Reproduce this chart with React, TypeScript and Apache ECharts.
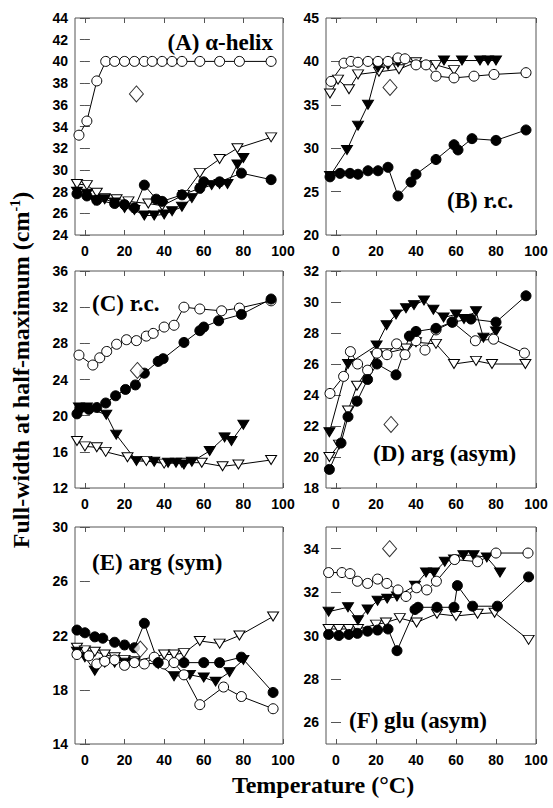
import { useEffect, useRef } from 'react';
import * as echarts from 'echarts';

// ---------- axis ticks ----------
const xTicks = [0, 20, 40, 60, 80, 100];
const aTicks = [24, 26, 28, 30, 32, 34, 36, 38, 40, 42, 44];
const bTicks = [20, 25, 30, 35, 40, 45];
const cTicks = [12, 16, 20, 24, 28, 32, 36];
const dTicks = [18, 20, 22, 24, 26, 28, 30, 32];
const eTicks = [14, 18, 22, 26, 30];
const fTicks = [26, 28, 30, 32, 34];

// ---------- panel A: alpha-helix ----------
const aOpenCircle = [[-3, 33.2], [1, 34.5], [6, 38.2], [10.5, 40], [15, 40], [20, 40], [25, 40], [30, 40], [34, 40], [39, 40], [44, 40], [49, 40], [58, 40], [68, 40], [78, 40], [94, 40]];
const aFilledCircle = [[-4, 27.8], [1, 27.6], [6, 27.2], [15, 26.9], [20, 26.8], [25, 26.5], [30, 28.6], [36, 27.3], [39, 27.1], [49, 27.7], [58, 28.3], [60, 28.9], [68, 28.9], [79, 29.7], [94, 29.1]];
const aFilledTri = [[-4, 28.0], [1, 27.8], [5, 27.2], [10, 27.3], [15, 27.0], [20, 26.5], [25, 26.3], [30, 25.8], [35, 25.8], [40, 25.9], [44, 26.2], [49, 26.6], [54, 27.4], [59, 28.3], [64, 28.6], [68, 28.7], [72, 28.7], [77, 30.5], [80, 31.1]];
const aOpenTri = [[-4, 28.7], [1, 28.6], [6, 27.9], [10, 27.4], [16, 27.3], [22, 27.1], [32, 26.9], [39, 26.7], [50, 27.7], [58, 29.7], [68, 31.0], [77, 32.0], [94, 33.0]];
const aDiamond = [[26, 37.0]];

// ---------- panel B: r.c. ----------
const bOpenCircle = [[-2.5, 37.7], [4, 39.8], [7.5, 40.0], [11, 39.9], [16, 40.0], [21, 40.0], [26, 40.0], [31, 40.4], [34.5, 40.3], [40, 39.6], [45, 39.6], [50, 38.3], [59, 38.1], [69, 38.3], [79, 38.5], [95, 38.7]];
const bFilledCircle = [[-3, 26.7], [2, 27.1], [7, 27.1], [11, 27.0], [16, 27.4], [21, 27.4], [26, 27.8], [31, 24.5], [37.5, 26.1], [40, 27.0], [50, 28.7], [59, 30.4], [61, 29.8], [68, 31.1], [80, 30.9], [95, 32.1]];
const bFilledTri = [[-3, 26.8], [5.5, 29.8], [11, 32.6], [16, 35.0], [21, 39.3], [26, 39.6], [31, 39.9], [54, 40.1], [63, 40.1], [72, 40.1], [76, 40.1], [80, 40.1]];
const bOpenTri = [[-3, 36.3], [1, 37.9], [6.5, 36.8], [11, 38.5], [21.5, 38.8], [31.5, 39.1], [40, 39.9], [50, 39.6], [59, 39.0]];
const bDiamond = [[27, 37.0]];

// ---------- panel C: r.c. ----------
const cOpenCircle = [[-3, 26.7], [4, 25.6], [7.5, 26.4], [11, 27.1], [16, 27.9], [21, 28.4], [26, 28.3], [31, 28.8], [34.5, 29.1], [40, 29.8], [45, 30.0], [50, 32.0], [58, 31.8], [69, 31.6], [78, 31.9], [94, 32.7]];
const cFilledCircle = [[-4, 20.2], [-2.5, 20.8], [2, 20.7], [6, 20.9], [10.5, 21.4], [15.5, 22.2], [20.5, 22.9], [25.5, 23.4], [30, 24.7], [37, 26.0], [39.5, 26.3], [50, 28.1], [58, 29.4], [60, 29.8], [67.5, 30.5], [79, 31.2], [94, 32.9]];
const cFilledTri = [[-3, 20.9], [1, 20.9], [10.8, 20.1], [15.8, 17.9], [26, 15.0], [35, 14.9], [42, 14.8], [46, 14.8], [50, 14.6], [54, 14.9], [63, 16.1], [70.5, 17.6], [74, 17.2], [80, 19.0]];
const cOpenTri = [[-4, 17.2], [0, 16.6], [6, 16.5], [10.5, 16.0], [21.5, 15.4], [31, 15.0], [40, 14.7], [49, 14.8], [59, 14.8], [69.5, 14.4], [77.5, 14.6], [94, 15.1]];
const cDiamond = [[26.5, 25.0]];

// ---------- panel D: arg (asym) ----------
const dOpenCircle = [[-3, 24.1], [3.8, 25.2], [7.2, 26.8], [10.8, 26.0], [15.8, 25.6], [20.5, 26.7], [25.5, 26.6], [30.3, 27.3], [34.5, 26.6], [40, 27.5], [44.5, 26.9], [50, 28.2], [58.3, 28.7], [69.7, 27.5], [78.8, 27.6], [94.2, 26.7]];
const dFilledCircle = [[-3.3, 19.2], [2.5, 20.9], [6, 22.6], [10.5, 23.6], [15.8, 25.0], [20.5, 26.0], [30, 25.3], [36.7, 27.8], [40, 28.1], [50, 28.3], [58, 28.7], [67.5, 28.9], [80, 28.7], [95, 30.4]];
const dFilledTri = [[-3.3, 21.6], [6, 26.0], [20.3, 27.2], [25.3, 28.5], [30, 29.2], [35, 29.6], [39, 29.8], [44, 30.1], [48.7, 29.5], [53.8, 29.0], [60, 29.2], [64, 28.9], [70, 29.4], [73.7, 27.7], [80, 28.1]];
const dOpenTri = [[-3.3, 20.0], [1.5, 20.8], [6, 23.0], [10.5, 24.6], [20, 26.5], [25, 26.7], [35, 27.0], [40, 27.4], [50, 27.3], [59, 26.0], [70, 26.2], [78, 26.0], [94.7, 26.0]];
const dDiamond = [[27.5, 22.1]];

// ---------- panel E: arg (sym) ----------
const eOpenCircle = [[-4, 20.6], [2, 20.5], [6, 19.9], [10, 20.1], [15, 20.2], [20, 19.8], [25, 20.0], [30, 19.9], [35, 20.4], [40, 19.9], [45, 20.0], [50, 19.1], [58, 16.9], [70, 18.2], [79, 17.5], [95, 16.6]];
const eFilledCircle = [[-4, 22.4], [0, 22.2], [5, 21.9], [9, 21.8], [15, 21.5], [20, 21.3], [25, 21.1], [30, 22.9], [37, 20.0], [50, 20.0], [60, 20.0], [68, 20.0], [79, 20.4], [95, 17.8]];
const eFilledTri = [[-4, 20.8], [0, 20.4], [5, 19.4], [10, 20.0], [15, 20.0], [20, 20.0], [25, 20.0], [37, 19.9], [45, 19.0], [53, 19.1], [60, 18.9], [66, 18.6], [73, 19.3], [80, 20.2]];
const eOpenTri = [[-4, 21.1], [0, 20.9], [5, 20.8], [10, 20.6], [15, 20.4], [20, 20.2], [25, 20.1], [40, 20.6], [45, 20.6], [50, 20.7], [58, 21.6], [68, 21.4], [78, 22.0], [95, 23.4]];
const eDiamond = [[28, 21.0]];

// ---------- panel F: glu (asym) ----------
const fOpenCircle = [[-3.7, 32.9], [3, 32.9], [7, 32.85], [10.7, 32.5], [15.8, 32.4], [20.8, 32.6], [25.4, 32.4], [31, 32.1], [35, 31.8], [40.3, 32.2], [45.4, 32.1], [50.2, 32.5], [59.3, 33.5], [70.8, 33.4], [80, 33.8], [96, 33.8]];
const fFilledCircle = [[-3.7, 30.05], [1.4, 30.0], [6.4, 30.05], [10.7, 30.1], [15.8, 30.2], [20.8, 30.25], [26, 30.3], [30.5, 29.3], [39.5, 31.2], [41, 31.3], [50.5, 31.3], [59, 31.3], [60.7, 32.3], [68.3, 31.35], [80.7, 31.35], [96.3, 32.7]];
const fFilledTri = [[-3.7, 31.1], [6, 31.3], [11, 30.7], [15.8, 31.2], [20.8, 31.6], [25.6, 31.7], [30.5, 31.8], [39.5, 32.3], [45, 32.9], [49, 32.9], [54.4, 33.4], [59, 33.5], [63.7, 33.7], [68.8, 33.7], [75.4, 33.6], [82, 32.9]];
const fOpenTri = [[-3.7, 30.3], [1.4, 30.3], [6.4, 30.3], [11, 30.3], [20, 30.5], [25, 30.6], [31.9, 30.8], [40.3, 30.6], [50.5, 31.0], [60, 30.9], [70.8, 31.0], [79.3, 31.05], [96.3, 29.8]];
const fDiamond = [[26.8, 34.0]];

const SERIF = '"Liberation Serif", "Times New Roman", serif';
const SANS = '"Liberation Sans", Arial, sans-serif';
const FRAME = '#555';

const LEFT_X = 75, LEFT_W = 208, RIGHT_X = 326, RIGHT_W = 210;
const ROW_TOPS = [18, 271, 527];
const ROW_H = 217;

const panels = [
  { title: '(A) α-helix', yMin: 24, yMax: 44, yTicks: aTicks, oc: aOpenCircle, fc: aFilledCircle, ft: aFilledTri, ot: aOpenTri, dia: aDiamond, col: 0, row: 0, tx: 273, ty: 42, align: 'right' },
  { title: '(B) r.c.', yMin: 20, yMax: 45, yTicks: bTicks, oc: bOpenCircle, fc: bFilledCircle, ft: bFilledTri, ot: bOpenTri, dia: bDiamond, col: 1, row: 0, tx: 447, ty: 200, align: 'left' },
  { title: '(C) r.c.', yMin: 12, yMax: 36, yTicks: cTicks, oc: cOpenCircle, fc: cFilledCircle, ft: cFilledTri, ot: cOpenTri, dia: cDiamond, col: 0, row: 1, tx: 92, ty: 303, align: 'left' },
  { title: '(D) arg (asym)', yMin: 18, yMax: 32, yTicks: dTicks, oc: dOpenCircle, fc: dFilledCircle, ft: dFilledTri, ot: dOpenTri, dia: dDiamond, col: 1, row: 1, tx: 373, ty: 453, align: 'left' },
  { title: '(E) arg (sym)', yMin: 14, yMax: 30, yTicks: eTicks, oc: eOpenCircle, fc: eFilledCircle, ft: eFilledTri, ot: eOpenTri, dia: eDiamond, col: 0, row: 2, tx: 92, ty: 562, align: 'left' },
  { title: '(F) glu (asym)', yMin: 25, yMax: 35, yTicks: fTicks, oc: fOpenCircle, fc: fFilledCircle, ft: fFilledTri, ot: fOpenTri, dia: fDiamond, col: 1, row: 2, tx: 349, ty: 720, align: 'left' },
];

function buildOption() {
  const grid: any[] = [];
  const xAxis: any[] = [];
  const yAxis: any[] = [];
  const series: any[] = [];
  const graphic: any[] = [];
  const tickStyle = { color: FRAME, width: 1 };
  const labelStyle = { color: '#000', fontSize: 14, fontWeight: 'bold', fontFamily: SANS };

  panels.forEach((p, i) => {
    grid.push({
      left: p.col === 0 ? LEFT_X : RIGHT_X,
      top: ROW_TOPS[p.row],
      width: p.col === 0 ? LEFT_W : RIGHT_W,
      height: ROW_H,
      show: true,
      borderColor: FRAME,
      borderWidth: 1,
      backgroundColor: 'transparent',
    });
    xAxis.push({
      gridIndex: i, type: 'value', min: -5, max: 100, position: 'bottom',
      axisLine: { show: false },
      axisTick: { show: true, inside: true, length: 5, customValues: xTicks, lineStyle: tickStyle },
      axisLabel: { ...labelStyle, customValues: xTicks, margin: 9 },
      splitLine: { show: false },
    });
    xAxis.push({
      gridIndex: i, type: 'value', min: -5, max: 100, position: 'top',
      axisLine: { show: false },
      axisTick: { show: true, inside: true, length: 5, customValues: xTicks, lineStyle: tickStyle },
      axisLabel: { show: false },
      splitLine: { show: false },
    });
    yAxis.push({
      gridIndex: i, type: 'value', min: p.yMin, max: p.yMax, position: 'left',
      axisLine: { show: false },
      axisTick: { show: true, inside: true, length: 5, customValues: p.yTicks, lineStyle: tickStyle },
      axisLabel: { ...labelStyle, customValues: p.yTicks, margin: 7 },
      splitLine: { show: false },
    });
    yAxis.push({
      gridIndex: i, type: 'value', min: p.yMin, max: p.yMax, position: 'right',
      axisLine: { show: false },
      axisTick: { show: true, inside: true, length: 5, customValues: p.yTicks, lineStyle: tickStyle },
      axisLabel: { show: false },
      splitLine: { show: false },
    });
    const xi = 2 * i, yi = 2 * i;
    const line = { color: '#000', width: 1 };
    const mk = (data: number[][], symbol: string, filled: boolean, rotate: number, size: any) => ({
      type: 'line', xAxisIndex: xi, yAxisIndex: yi, data,
      symbol, symbolSize: size, symbolRotate: rotate, showAllSymbol: true,
      lineStyle: line,
      itemStyle: { color: filled ? '#000' : '#fff', borderColor: '#000', borderWidth: 1 },
      z: 3,
    });
    series.push(mk(p.ot, 'triangle', false, 180, [11, 9]));
    series.push(mk(p.ft, 'triangle', true, 180, [11, 9]));
    series.push(mk(p.oc, 'circle', false, 0, 10));
    series.push(mk(p.fc, 'circle', true, 0, 10));
    series.push({
      type: 'scatter', xAxisIndex: xi, yAxisIndex: yi, data: p.dia,
      symbol: 'diamond', symbolSize: [14, 16],
      itemStyle: { color: '#fff', borderColor: '#000', borderWidth: 1 }, z: 4,
    });
    graphic.push({
      type: 'text', x: p.tx, y: p.ty, z: 10,
      style: { text: p.title, fill: '#000', font: `bold 23px ${SERIF}`, align: p.align, verticalAlign: 'middle' },
    });
  });

  graphic.push({
    type: 'text', x: 21, y: 370, rotation: Math.PI / 2, z: 10,
    style: {
      text: '{a|Full-width at half-maximum (cm}{s|-1}{a|)}',
      align: 'center', verticalAlign: 'middle',
      rich: {
        a: { fontSize: 24, fontWeight: 'bold', fontFamily: SERIF, fill: '#000', lineHeight: 26 },
        s: { fontSize: 14, fontWeight: 'bold', fontFamily: SERIF, fill: '#000', verticalAlign: 'top', lineHeight: 14 },
      },
    },
  });
  graphic.push({
    type: 'text', x: 323, y: 785, z: 10,
    style: { text: 'Temperature (°C)', fill: '#000', font: `bold 24px ${SERIF}`, align: 'center', verticalAlign: 'middle' },
  });

  return { animation: false, backgroundColor: '#fff', grid, xAxis, yAxis, series, graphic };
}

export default function App() {
  const ref = useRef<HTMLDivElement>(null);
  useEffect(() => {
    if (!ref.current) return;
    const chart = echarts.init(ref.current, undefined, { renderer: 'svg' });
    chart.setOption(buildOption() as any);
    return () => chart.dispose();
  }, []);
  return <div ref={ref} style={{ position: 'absolute', left: 0, top: 0, width: 553, height: 808 }} />;
}
